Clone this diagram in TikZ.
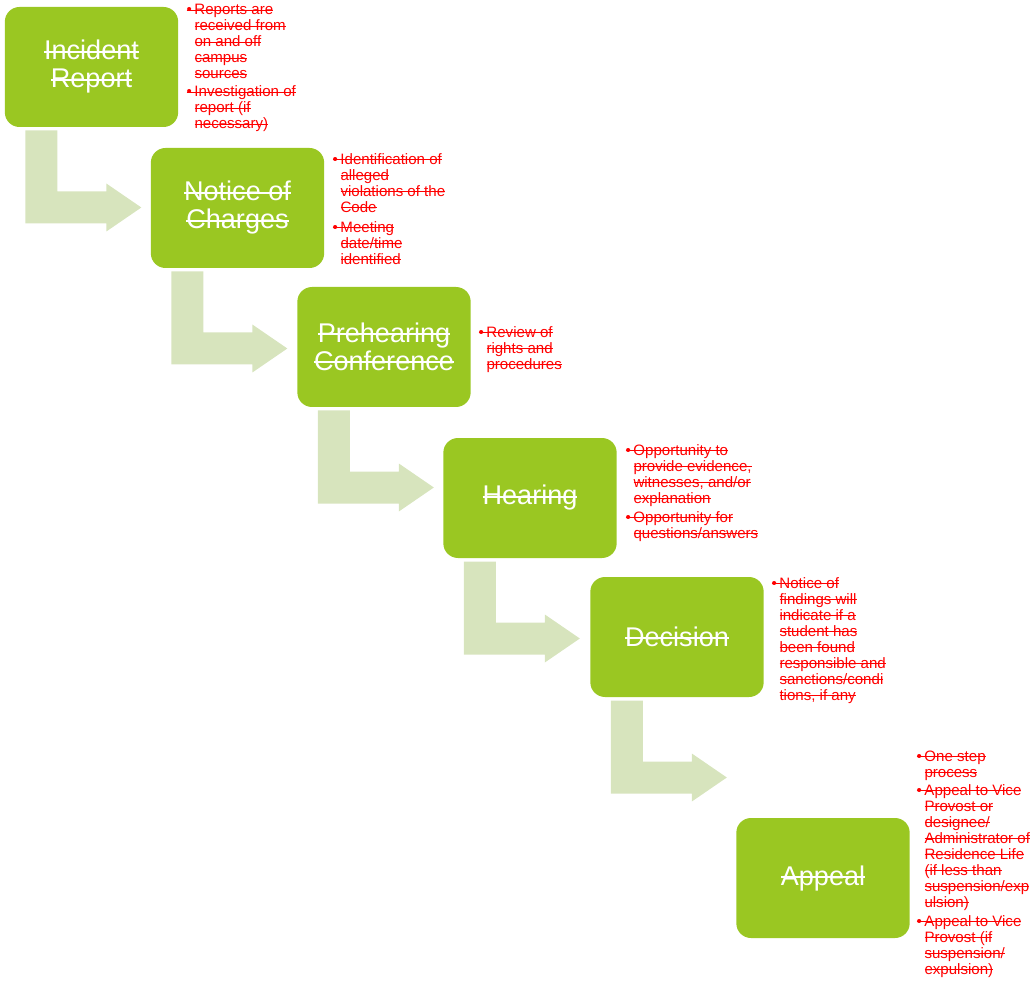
\documentclass[tikz,border=0pt]{standalone}
\usepackage{fontspec}
\setmainfont{Liberation Sans}

\definecolor{stagegreen}{RGB}{154,199,34}
\definecolor{arrowgreen}{RGB}{215,228,189}
\definecolor{notered}{RGB}{255,0,0}

\newsavebox{\strkbox}
\newcommand{\strk}[1]{\sbox{\strkbox}{#1}\rlap{\usebox{\strkbox}}\rule[0.27em]{\wd\strkbox}{0.075em}}
\newcommand{\bul}{\makebox[6pt][l]{\textbullet}}
\newcommand{\bl}[1]{\strk{\bul #1}}
\newcommand{\cl}[1]{\hspace*{6pt}\strk{#1}}

\tikzset{every picture/.style={line width=0.75pt}}
\tikzset{
  stage/.style={fill=stagegreen, draw=none, rounded corners=11pt, minimum width=130pt, minimum height=90pt,
    text=white, align=center, font=\fontsize{20.3}{21}\selectfont, inner sep=0pt},
  note/.style={anchor=north west, inner sep=0pt, text=notered, align=left, font=\fontsize{11.3}{12}\selectfont},
  bentarrow/.style={fill=arrowgreen, draw=none}
}

\begin{document}
\begin{tikzpicture}[x=0.75pt,y=0.75pt,yscale=-1,xscale=1]
\useasboundingbox (0,0) rectangle (1036,984);

%Shape: Rounded Rect [id:incident]
\draw (91.5,67) node (incident) [stage] {\strk{Incident}\\\strk{Report}};
%Shape: Rounded Rect [id:notice]
\draw (237.5,208) node (notice) [stage] {\strk{Notice of}\\\strk{Charges}};
%Shape: Rounded Rect [id:prehearing]
\draw (384,347) node (prehearing) [stage] {\strk{Prehearing}\\\strk{Conference}};
%Shape: Rounded Rect [id:hearing]
\draw (530,498) node (hearing) [stage] {\strk{Hearing}};
%Shape: Rounded Rect [id:decision]
\draw (677,637) node (decision) [stage] {\strk{Decision}};
%Shape: Rounded Rect [id:appeal]
\draw (823,878) node (appeal) [stage] {\strk{Appeal}};

%Bent Arrows
\foreach \from in {incident,notice,prehearing,hearing,decision}{
  \fill [bentarrow] (\from.south west) ++(21,3) -- ++(32,0) -- ++(0,61) -- ++(49,0) -- ++(0,-8) -- ++(35,24) -- ++(-35,24) -- ++(0,-8) -- ++(-81,0) -- cycle ;
}

% Text Node
\draw (186,4) node (incidentnote) [note] {\bl{Reports are}\\\cl{received from}\\\cl{on and off}\\\cl{campus}\\\cl{sources}\\[1.5pt]
  \bl{Investigation of}\\\cl{report (if}\\\cl{necessary)}};
% Text Node
\draw (332,153) node (noticenote) [note] {\bl{Identification of}\\\cl{alleged}\\\cl{violations of the}\\\cl{Code}\\[3pt]
  \bl{Meeting}\\\cl{date/time}\\\cl{identified}};
% Text Node
\draw (478,326) node (prehearingnote) [note] {\bl{Review of}\\\cl{rights and}\\\cl{procedures}};
% Text Node
\draw (625,444) node (hearingnote) [note] {\bl{Opportunity to}\\\cl{provide evidence,}\\\cl{witnesses, and/or}\\\cl{explanation}\\[2.25pt]
  \bl{Opportunity for}\\\cl{questions/answers}};
% Text Node
\draw (771,577) node (decisionnote) [note] {\bl{Notice of}\\\cl{findings will}\\\cl{indicate if a}\\\cl{student has}\\\cl{been found}\\\cl{responsible and}\\\cl{sanctions/condi}\\\cl{tions, if any}};
% Text Node
\draw (916,750) node (appealnote) [note] {\bl{One step}\\\cl{process}\\[1.5pt]
  \bl{Appeal to Vice}\\\cl{Provost or}\\\cl{designee/}\\\cl{Administrator of}\\\cl{Residence Life}\\\cl{(if less than}\\\cl{suspension/exp}\\\cl{ulsion)}\\[2.25pt]
  \bl{Appeal to Vice}\\\cl{Provost (if}\\\cl{suspension/}\\\cl{expulsion)}};

\end{tikzpicture}
\end{document}
